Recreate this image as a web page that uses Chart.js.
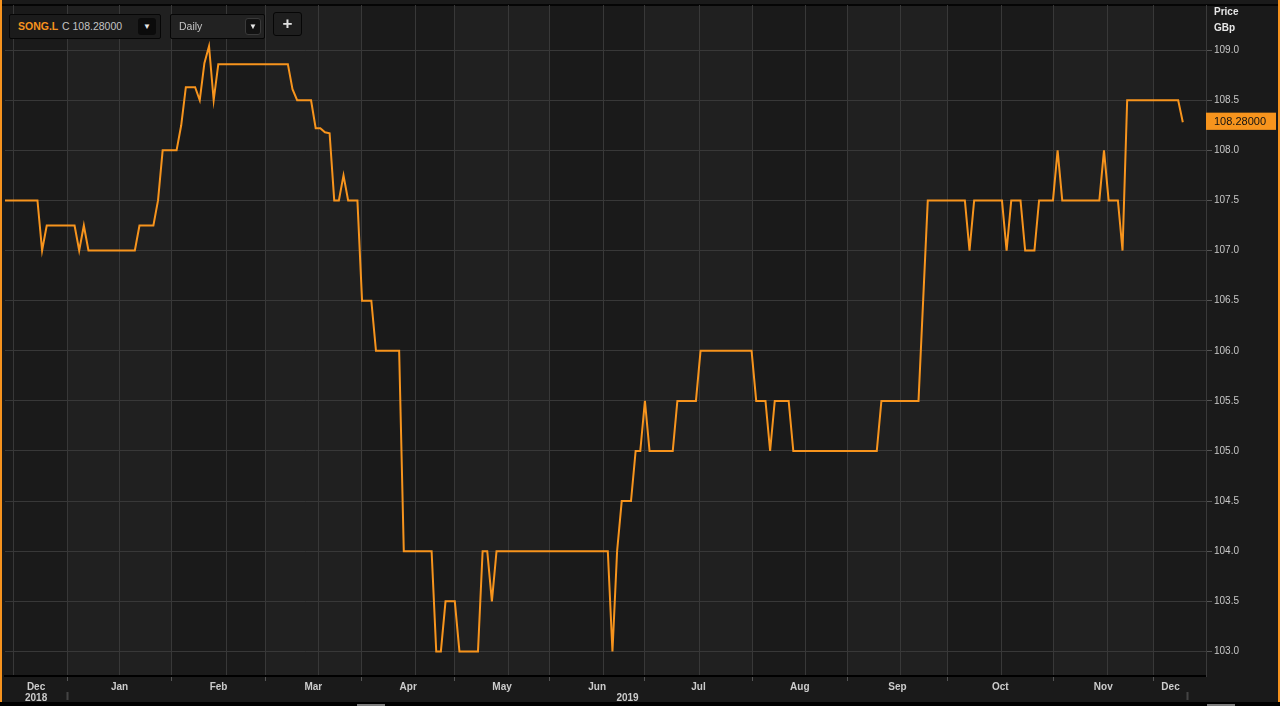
<!DOCTYPE html>
<html>
<head>
<meta charset="utf-8">
<title>SONG.L Daily</title>
<script src="https://cdn.jsdelivr.net/npm/chart.js@4.4.1/dist/chart.umd.min.js"></script>
<style>
  html, body { margin: 0; padding: 0; background: #000; }
  body { width: 1280px; height: 706px; position: relative; overflow: hidden; font-family: "Liberation Sans", Arial, sans-serif; }
  #wrap { position: absolute; left: 0; top: 0; width: 1276px; height: 702px; border-left: 2px solid #f7931e; border-right: 2px solid #f7931e; background: #1a1a1a; }
  .box { position: absolute; box-sizing: border-box; border: 1px solid #060606; border-radius: 2px; }
  .btn { position: absolute; box-sizing: border-box; border-radius: 3px; color: #e8e8e8; font-size: 8px; text-align: center; }
  .hdr { position: absolute; left: 1214px; color: #e6e6e6; font-size: 10px; font-weight: bold; }
  .handle { position: absolute; top: 704px; height: 2px; background: #7a7a7a; }
</style>
</head>
<body>
<div id="wrap"><canvas id="priceChart"></canvas></div>

<div class="box" style="left:9px;top:14px;width:152px;height:25px;background:#1b1b1b;">
  <span style="position:absolute;left:8px;top:5px;font-size:10.5px;font-weight:bold;color:#f7931e;">SONG.L</span>
  <span style="position:absolute;left:52px;top:5px;font-size:10.5px;color:#c4c4c4;">C 108.28000</span>
  <div class="btn" style="left:128px;top:3px;width:18px;height:17px;background:#0b0b0b;line-height:17px;">&#9660;</div>
</div>
<div class="box" style="left:170px;top:14px;width:95px;height:25px;background:#222;">
  <span style="position:absolute;left:8px;top:5px;font-size:10.5px;color:#c4c4c4;">Daily</span>
  <div class="btn" style="left:74px;top:3px;width:16px;height:17px;background:#121212;border:1px solid #3a3a3a;line-height:15px;">&#9660;</div>
</div>
<div class="box" style="left:273px;top:12px;width:29px;height:24px;background:#1e1e1e;border-radius:3px;">
  <span style="position:absolute;left:0;width:27px;top:1px;text-align:center;font-size:17px;font-weight:bold;color:#e0e0e0;">+</span>
</div>

<div class="hdr" style="top:6px;">Price</div>
<div class="hdr" style="top:22px;">GBp</div>

<div class="handle" style="left:357px;width:28px;"></div>
<div class="handle" style="left:1207px;width:28px;"></div>

<script>
// trading session (counted from the left edge of the chart) and closing price at each turn of the line
var session = [0, 7, 8, 9, 15, 16, 17, 18, 28, 29,
    32, 33, 34, 37, 38, 39, 41, 42, 43, 44,
    45, 46, 61, 62, 63, 66, 67, 68, 69, 70,
    71, 72, 73, 74, 76, 77, 79, 80, 85, 86,
    92, 93, 94, 95, 97, 98, 102, 103, 104, 105,
    106, 130, 131, 132, 133, 135, 136, 137, 138, 139,
    144, 145, 149, 150, 161, 162, 164, 165, 166, 169,
    170, 188, 189, 197, 198, 199, 207, 208, 209, 215,
    216, 217, 219, 220, 222, 223, 226, 227, 228, 236,
    237, 238, 240, 241, 242, 253, 254];
var price = [107.5, 107.5, 107.0, 107.25, 107.25, 107.0, 107.25, 107.0, 107.0, 107.25,
    107.25, 107.5, 108.0, 108.0, 108.25, 108.63, 108.63, 108.5, 108.87, 109.04,
    108.5, 108.86, 108.86, 108.61, 108.5, 108.5, 108.22, 108.22, 108.18, 108.17,
    107.5, 107.5, 107.75, 107.5, 107.5, 106.5, 106.5, 106.0, 106.0, 104.0,
    104.0, 103.0, 103.0, 103.5, 103.5, 103.0, 103.0, 104.0, 104.0, 103.5,
    104.0, 104.0, 103.0, 104.0, 104.5, 104.5, 105.0, 105.0, 105.5, 105.0,
    105.0, 105.5, 105.5, 106.0, 106.0, 105.5, 105.5, 105.0, 105.5, 105.5,
    105.0, 105.0, 105.5, 105.5, 106.5, 107.5, 107.5, 107.0, 107.5, 107.5,
    107.0, 107.5, 107.5, 107.0, 107.0, 107.5, 107.5, 108.0, 107.5, 107.5,
    108.0, 107.5, 107.5, 107.0, 108.5, 108.5, 108.28];

// month bands on the time axis (session positions of month starts)
var monthNames = ['Dec', 'Jan', 'Feb', 'Mar', 'Apr', 'May', 'Jun', 'Jul', 'Aug', 'Sep', 'Oct', 'Nov', 'Dec'];
var monthEdges = [0, 13.4, 36, 56.1, 76.9, 97, 117.4, 138, 161.1, 181.7, 203.2, 226.1, 247.6, 255.1];
var midMonthGrid = [1.9, 24.8, 47.7, 67.5, 88.6, 108.5, 129, 149.7, 172.7, 193.2, 214.8, 237.7];
var yearNames = ['2018', '2019'];
var yearEdges = [0, 13.4, 255.1];

var priceTicks = [103.0, 103.5, 104.0, 104.5, 105.0, 105.5, 106.0, 106.5, 107.0, 107.5, 108.0, 108.5, 109.0];
var lastPrice = price[price.length - 1];

var xMin = 0, xMax = 259;
var yMin = 102.755, yMax = 109.45;
var lineColor = '#f7941d';
var gridColor = '#383838';

// ticks for the month row: marks at the month starts, labels in the middle of each band
var monthTicks = [];
for (var i = 1; i < monthEdges.length - 1; i++) {
    monthTicks.push({ v: monthEdges[i], label: '', mark: true });
}
for (var i = 0; i < monthNames.length; i++) {
    monthTicks.push({ v: (monthEdges[i] + monthEdges[i + 1]) / 2, label: monthNames[i], mark: false });
}
monthTicks.sort(function (a, b) { return a.v - b.v; });

var yearTicks = [];
for (var i = 0; i < yearNames.length; i++) {
    yearTicks.push({ v: (yearEdges[i] + yearEdges[i + 1]) / 2, label: yearNames[i], mark: false });
    yearTicks.push({ v: yearEdges[i + 1], label: '', mark: true });
}

var points = [];
for (var i = 0; i < session.length; i++) {
    points.push({ x: session[i], y: price[i] });
}

// alternating month shading behind the grid
var monthShade = {
    id: 'monthShade',
    beforeDraw: function (chart) {
        var ctx = chart.ctx, area = chart.chartArea, xs = chart.scales.x;
        ctx.save();
        ctx.fillStyle = '#1e1e1e';
        ctx.fillRect(area.left, area.top, area.right - area.left, area.bottom - area.top);
        for (var i = 0; i < monthNames.length; i++) {
            var x1 = xs.getPixelForValue(monthEdges[i]);
            var x2 = i === monthNames.length - 1 ? area.right : xs.getPixelForValue(monthEdges[i + 1]);
            ctx.fillStyle = i % 2 === 0 ? '#1a1a1a' : '#202020';
            ctx.fillRect(x1, area.top, x2 - x1, area.bottom - area.top);
        }
        ctx.fillStyle = '#050505';
        ctx.fillRect(0, area.top - 1, chart.width, 2);
        ctx.restore();
    }
};

Chart.defaults.font.family = '"Liberation Sans", Arial, sans-serif';

var isLast = function (c) { return c.tick && c.tick.value === lastPrice; };
var noPad = function (s) { s.paddingTop = 0; s.paddingBottom = 0; s.paddingLeft = 0; s.paddingRight = 0; };

var chart = new Chart(document.getElementById('priceChart'), {
    type: 'line',
    data: {
        datasets: [{
            label: 'SONG.L',
            data: points,
            borderColor: lineColor,
            borderWidth: 2,
            pointRadius: 0,
            tension: 0,
            fill: false
        }]
    },
    options: {
        responsive: true,
        maintainAspectRatio: false,
        animation: false,
        events: [],
        layout: { padding: { left: 3, top: 5, right: 0, bottom: 0 } },
        plugins: { legend: { display: false }, tooltip: { enabled: false } },
        scales: {
            x: {
                type: 'linear', position: 'bottom', weight: 0, min: xMin, max: xMax, bounds: 'data',
                afterBuildTicks: function (s) {
                    s.ticks = monthEdges.slice(1, -1).concat(midMonthGrid).map(function (v) { return { value: v }; });
                },
                afterFit: function (s) { s.height = 0; noPad(s); },
                grid: { color: gridColor, drawTicks: false },
                border: { display: true, color: '#000', width: 2 },
                ticks: { display: false }
            },
            xm: {
                type: 'linear', position: 'bottom', weight: 1, min: xMin, max: xMax, bounds: 'data',
                afterBuildTicks: function (s) {
                    s.ticks = monthTicks.map(function (t) { return { value: t.v }; });
                },
                afterFit: function (s) { s.height = 16; noPad(s); },
                grid: {
                    drawOnChartArea: false, tickLength: 5, color: 'transparent',
                    tickColor: function (c) { return monthTicks[c.index] && monthTicks[c.index].mark ? '#555' : 'transparent'; }
                },
                border: { display: false },
                ticks: {
                    autoSkip: false, maxRotation: 0, minRotation: 0, padding: 0,
                    color: '#cccccc', font: { size: 10, weight: 'bold' },
                    callback: function (v, i) { return monthTicks[i].label; }
                }
            },
            xy: {
                type: 'linear', position: 'bottom', weight: 2, min: xMin, max: xMax, bounds: 'data',
                afterBuildTicks: function (s) {
                    s.ticks = yearTicks.map(function (t) { return { value: t.v }; });
                },
                afterFit: function (s) { s.height = 10; noPad(s); },
                grid: {
                    drawOnChartArea: false, tickLength: 8, color: 'transparent', tickWidth: 2,
                    tickColor: function (c) { return yearTicks[c.index] && yearTicks[c.index].mark ? '#444' : 'transparent'; }
                },
                border: { display: false },
                ticks: {
                    autoSkip: false, maxRotation: 0, minRotation: 0, padding: -8,
                    color: '#cccccc', font: { size: 10, weight: 'bold' },
                    callback: function (v, i) { return yearTicks[i].label; }
                }
            },
            y: {
                type: 'linear', position: 'right', min: yMin, max: yMax, bounds: 'data',
                afterBuildTicks: function (s) {
                    s.ticks = priceTicks.concat([lastPrice]).sort(function (a, b) { return a - b; })
                        .map(function (v) { return { value: v }; });
                },
                afterFit: function (s) { s.width = 72; noPad(s); },
                grid: {
                    color: function (c) { return isLast(c) ? 'transparent' : gridColor; },
                    tickColor: function (c) { return isLast(c) ? 'transparent' : '#555'; },
                    tickLength: 6
                },
                border: { display: true, color: '#3a3a3a' },
                ticks: {
                    autoSkip: false, padding: 2,
                    color: function (c) { return isLast(c) ? '#111' : '#c8c8c8'; },
                    font: function (c) { return isLast(c) ? { size: 11 } : { size: 10 }; },
                    showLabelBackdrop: isLast,
                    backdropColor: lineColor,
                    backdropPadding: { top: 3, bottom: 1, left: 8, right: 10 },
                    callback: function (v) { return v === lastPrice ? lastPrice.toFixed(5) : v.toFixed(1); }
                }
            }
        }
    },
    plugins: [monthShade]
});
</script>
</body>
</html>
